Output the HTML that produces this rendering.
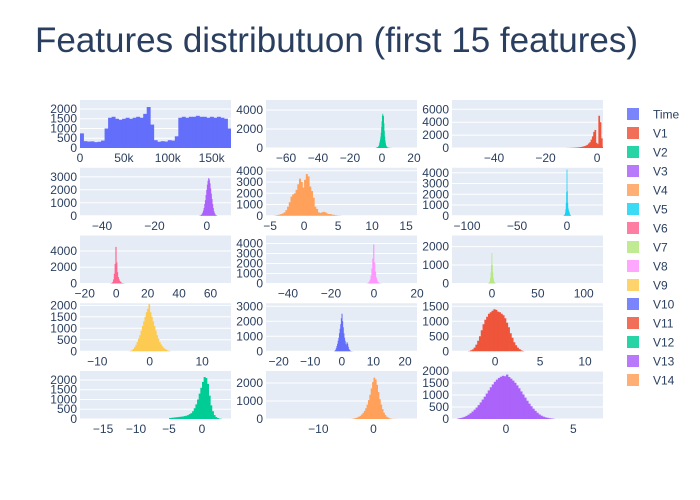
<!DOCTYPE html>
<html><head><meta charset="utf-8"><style>
body{margin:0;background:#fff;}
svg{display:block;font-family:"Liberation Sans",sans-serif;}
</style></head><body>
<svg id="chart" width="700" height="500">
<rect width="700" height="500" fill="#fff"/>
<text x="35" y="52" font-size="35" fill="#2a3f5f">Features distributuon (first 15 features)</text>
<g id="panels"></g><g id="legend"></g>
</svg>
<script>
const names=["Time","V1","V2","V3","V4","V5","V6","V7","V8","V9","V10","V11","V12","V13","V14"];
const colors=["#636efa","#EF553B","#00cc96","#ab63fa","#FFA15A","#19d3f3","#FF6692","#B6E880","#FF97FF","#FECB52","#636efa","#EF553B","#00cc96","#ab63fa","#FFA15A"];
const binStart=[0,-12,-4,-3,-4.5,-4,-4,-5,-4,-4,-2.5,-3,-5,-3.6,-4];
const binWidth=[4000,0.5,0.25,0.25,0.25,0.4,0.5,0.5,0.4,0.25,0.2,0.2,0.25,0.15,0.25];
const counts=[
[750,350,330,340,300,320,380,1000,1550,1600,1500,1450,1500,1550,1500,1550,1600,1550,1750,2100,1200,400,320,350,330,400,380,600,1550,1600,1550,1600,1600,1650,1600,1600,1550,1600,1550,1600,1550,1500,1000],
[10,10,20,20,30,40,50,60,80,100,120,150,200,250,300,400,500,700,900,1300,1800,2500,2800,800,600,5000,4000,1500,200],
[20,30,40,60,80,100,150,200,300,500,700,900,1200,1600,2200,2800,3400,3600,3300,3400,2600,1800,1200,800,500,300,200,120,80,60,40,30,20,20,10,10,10,5,5,5],
[10,20,40,80,150,250,400,600,900,1200,1600,2000,2400,2700,2900,2800,2500,2100,1700,1300,900,600,350,200,100,50,20,10],
[10,30,60,100,150,200,300,500,800,1200,1700,1900,2000,2300,2800,3300,3000,2500,3200,3700,3500,2600,2200,1600,800,600,300,250,300,350,300,200,150,150,100,80,50,30,20,10],
[10,20,40,80,150,300,600,1200,2200,4300,2300,1200,700,500,400,300,150,80,40,20],
[10,30,80,200,500,1200,2400,4500,2600,1400,800,500,300,200,100,60,30,20,10,5],
[5,10,20,40,80,150,300,600,1000,1650,1000,600,300,150,80,40,20,10,5,5],
[5,10,30,80,200,400,800,1500,2500,3900,2100,1200,600,300,150,80,40,20,10,5],
[10,20,50,100,180,280,400,550,700,900,1100,1300,1500,1700,1850,2050,1700,1500,1300,1100,900,700,550,400,300,220,150,100,70,40,20,10],
[10,40,100,200,350,500,700,900,1200,1500,1800,2200,2500,2000,1600,1200,900,700,500,400,600,500,300,150,80,40,20,10,5,5],
[10,30,60,120,220,350,500,700,900,1050,1150,1250,1300,1350,1400,1380,1320,1300,1250,1200,1100,950,800,600,450,300,200,120,70,30,10],
[50,60,70,80,90,100,110,120,130,150,170,200,250,300,400,550,750,1000,1300,1600,1900,2150,2100,1800,1200,700,400,200,100,50,20,10],
[20,40,60,90,130,180,240,310,390,480,580,690,810,930,1060,1190,1320,1440,1550,1640,1710,1760,1800,1780,1850,1750,1680,1600,1510,1400,1280,1150,1020,890,760,640,530,430,340,260,190,140,100,70,50,30,20,10],
[10,20,40,60,90,130,180,250,340,450,600,800,1050,1350,1700,2050,2300,2200,1900,1500,1100,800,550,350,220,130,80,40,20,10,5,5,5,0,0,0]
];
const xRanges=[[0,172000],[-56.3,2.3],[-72.5,21.9],[-48.4,9.2],[-5.6,16.6],[-115,36],[-23,73],[-43.5,121],[-50.2,20],[-13.3,15.5],[-24,23.8],[-4.8,12],[-18.5,4.4],[-4,7.2],[-19.5,7.9]];
const yMax=[2460,7440,5050,3700,4270,4470,5900,2600,4800,2090,3200,1600,2460,2000,2670];
const xTicks=[[0,50000,100000,150000],[-40,-20,0],[-60,-40,-20,0,20],[-40,-20,0],[-5,0,5,10,15],[-100,-50,0],[-20,0,20,40,60],[0,50,100],[-40,-20,0,20],[-10,0,10],[-20,-10,0,10,20],[0,5,10],[-15,-10,-5,0],[0,5],[-10,0]];
const xTickLabels=[["0","50k","100k","150k"]];
const yTicks=[[0,500,1000,1500,2000],[0,2000,4000,6000],[0,2000,4000],[0,1000,2000,3000],[0,1000,2000,3000,4000],[0,1000,2000,3000,4000],[0,2000,4000],[0,1000,2000],[0,1000,2000,3000,4000],[0,500,1000,1500,2000],[0,1000,2000,3000],[0,500,1000,1500],[0,500,1000,1500,2000],[0,500,1000,1500,2000],[0,1000,2000]];
const cellRow=[0,0,0,1,1,1,2,2,2,3,3,3,4,4,4];
const cellCol=[0,2,1,0,1,2,0,2,1,0,1,2,0,2,1];
const colX=[80,266,452], rowY=[100,167.75,235.5,303.25,371], PW=151, PH=48;
const NS="http://www.w3.org/2000/svg";
function mk(tag,attrs,parent){const e=document.createElementNS(NS,tag);for(const k in attrs)e.setAttribute(k,attrs[k]);parent.appendChild(e);return e;}
const panels=document.getElementById('panels');
for(let i=0;i<names.length;i++){
  const x0=colX[cellCol[i]], y0=rowY[cellRow[i]];
  const [xa,xb]=xRanges[i];
  const sx=v=>x0+(v-xa)/(xb-xa)*PW;
  const sy=v=>y0+PH-v/yMax[i]*PH;
  const g=mk('g',{},panels);
  
  
  const bg=mk('rect',{x:x0,y:y0,width:PW,height:PH,fill:'#e5ecf6'},g);
  
  
  yTicks[i].forEach(t=>{
    const y=sy(t);
    mk('line',{x1:x0,x2:x0+PW,y1:y,y2:y,stroke:'#fff','stroke-width':1},g);
    const tx=mk('text',{x:x0-3,y:y+4,'font-size':12,fill:'#2a3f5f','text-anchor':'end'},g);
    tx.textContent=t;
    
    
  });
  counts[i].forEach((c,j)=>{
    const a=binStart[i]+j*binWidth[i], b=a+binWidth[i];
    const xl=Math.max(sx(a),x0), xr=Math.min(sx(b)+0.4,x0+PW);
    if(xr<=xl||c<=0)return;
    const r=mk('rect',{x:xl,y:sy(c),width:xr-xl,height:sy(0)-sy(c),fill:colors[i]},g);
    
    
  });
  xTicks[i].forEach((t,k)=>{
    const tx=mk('text',{x:sx(t),y:y0+PH+14,'font-size':12,fill:'#2a3f5f','text-anchor':'middle'},g);
    tx.textContent=(xTickLabels[i]?xTickLabels[i][k]:String(t).replace('-','\u2212'));
    
    
  });
}
const legend=document.getElementById('legend');
names.forEach((n,i)=>{
  const y=114+i*19;
  const g=mk('g',{},legend);
  
  
  mk('rect',{x:627,y:y-6,width:12,height:12,fill:colors[i],opacity:0.85},g);
  const t=mk('text',{x:653,y:y+4.5,'font-size':12,fill:'#2a3f5f'},g);
  t.textContent=n;
});
</script>
</body></html>
